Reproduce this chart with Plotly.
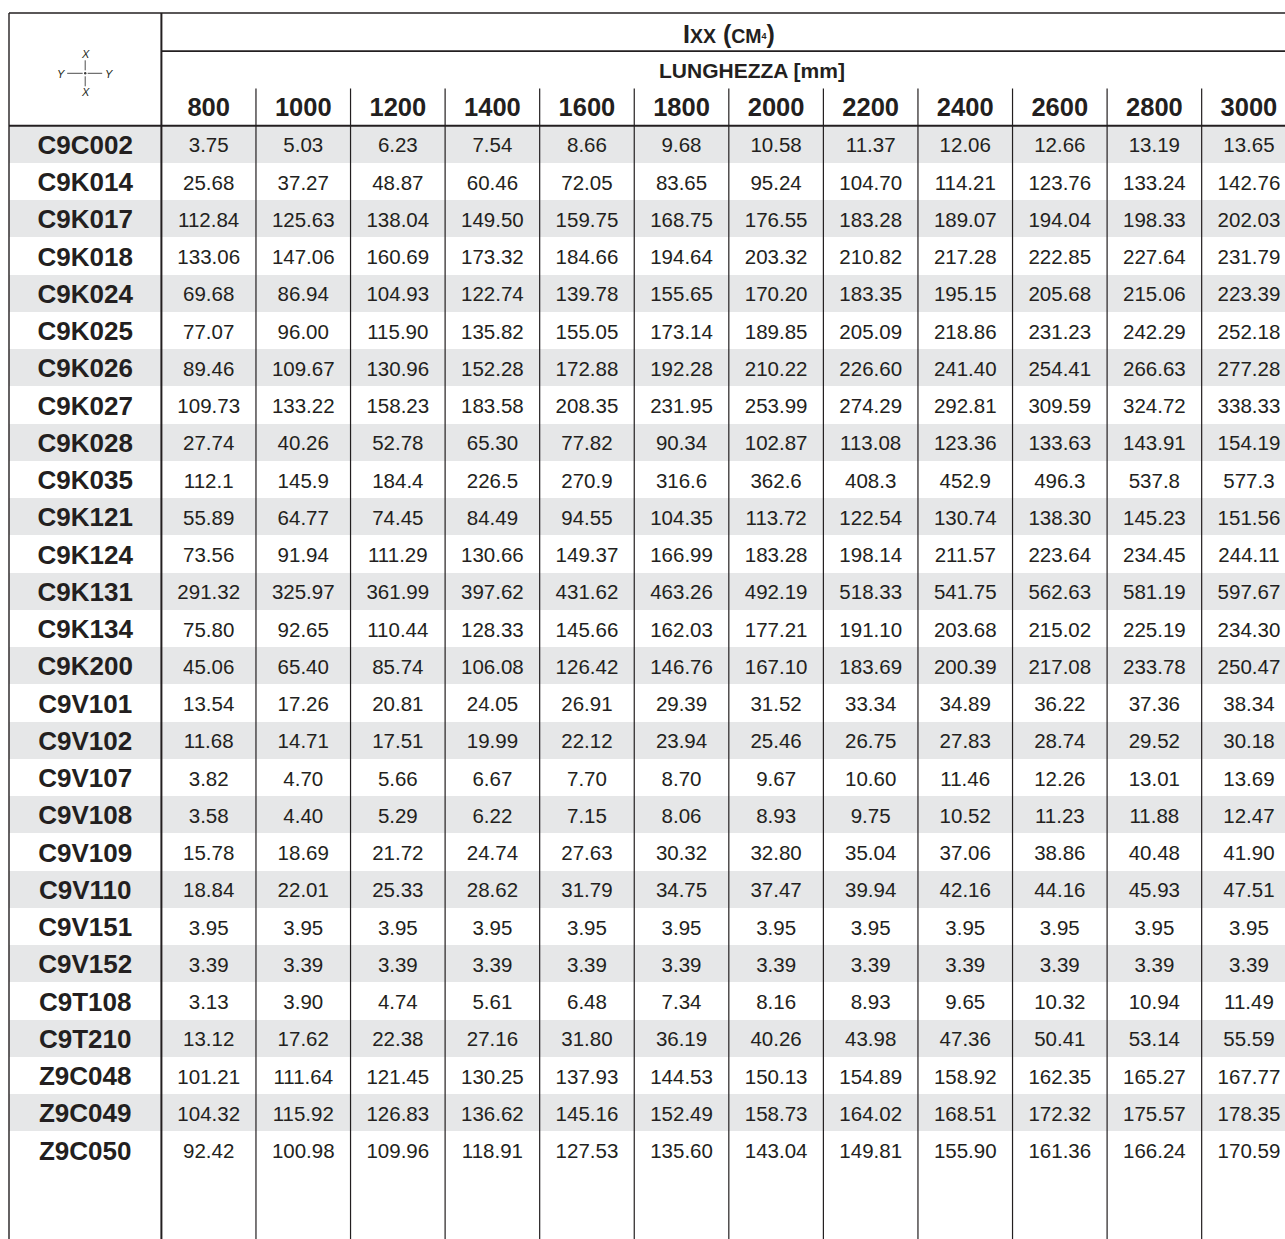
import plotly.graph_objects as go

# ---------------- data ----------------
LENGTHS = [800, 1000, 1200, 1400, 1600, 1800, 2000, 2200, 2400, 2600, 2800, 3000]

PROFILES = ["C9C002", "C9K014", "C9K017", "C9K018", "C9K024", "C9K025", "C9K026",
            "C9K027", "C9K028", "C9K035", "C9K121", "C9K124", "C9K131", "C9K134",
            "C9K200", "C9V101", "C9V102", "C9V107", "C9V108", "C9V109", "C9V110",
            "C9V151", "C9V152", "C9T108", "C9T210", "Z9C048", "Z9C049", "Z9C050"]

C9C002 = [3.75, 5.03, 6.23, 7.54, 8.66, 9.68, 10.58, 11.37, 12.06, 12.66, 13.19, 13.65]
C9K014 = [25.68, 37.27, 48.87, 60.46, 72.05, 83.65, 95.24, 104.70, 114.21, 123.76, 133.24, 142.76]
C9K017 = [112.84, 125.63, 138.04, 149.50, 159.75, 168.75, 176.55, 183.28, 189.07, 194.04, 198.33, 202.03]
C9K018 = [133.06, 147.06, 160.69, 173.32, 184.66, 194.64, 203.32, 210.82, 217.28, 222.85, 227.64, 231.79]
C9K024 = [69.68, 86.94, 104.93, 122.74, 139.78, 155.65, 170.20, 183.35, 195.15, 205.68, 215.06, 223.39]
C9K025 = [77.07, 96.00, 115.90, 135.82, 155.05, 173.14, 189.85, 205.09, 218.86, 231.23, 242.29, 252.18]
C9K026 = [89.46, 109.67, 130.96, 152.28, 172.88, 192.28, 210.22, 226.60, 241.40, 254.41, 266.63, 277.28]
C9K027 = [109.73, 133.22, 158.23, 183.58, 208.35, 231.95, 253.99, 274.29, 292.81, 309.59, 324.72, 338.33]
C9K028 = [27.74, 40.26, 52.78, 65.30, 77.82, 90.34, 102.87, 113.08, 123.36, 133.63, 143.91, 154.19]
C9K035 = [112.1, 145.9, 184.4, 226.5, 270.9, 316.6, 362.6, 408.3, 452.9, 496.3, 537.8, 577.3]
C9K121 = [55.89, 64.77, 74.45, 84.49, 94.55, 104.35, 113.72, 122.54, 130.74, 138.30, 145.23, 151.56]
C9K124 = [73.56, 91.94, 111.29, 130.66, 149.37, 166.99, 183.28, 198.14, 211.57, 223.64, 234.45, 244.11]
C9K131 = [291.32, 325.97, 361.99, 397.62, 431.62, 463.26, 492.19, 518.33, 541.75, 562.63, 581.19, 597.67]
C9K134 = [75.80, 92.65, 110.44, 128.33, 145.66, 162.03, 177.21, 191.10, 203.68, 215.02, 225.19, 234.30]
C9K200 = [45.06, 65.40, 85.74, 106.08, 126.42, 146.76, 167.10, 183.69, 200.39, 217.08, 233.78, 250.47]
C9V101 = [13.54, 17.26, 20.81, 24.05, 26.91, 29.39, 31.52, 33.34, 34.89, 36.22, 37.36, 38.34]
C9V102 = [11.68, 14.71, 17.51, 19.99, 22.12, 23.94, 25.46, 26.75, 27.83, 28.74, 29.52, 30.18]
C9V107 = [3.82, 4.70, 5.66, 6.67, 7.70, 8.70, 9.67, 10.60, 11.46, 12.26, 13.01, 13.69]
C9V108 = [3.58, 4.40, 5.29, 6.22, 7.15, 8.06, 8.93, 9.75, 10.52, 11.23, 11.88, 12.47]
C9V109 = [15.78, 18.69, 21.72, 24.74, 27.63, 30.32, 32.80, 35.04, 37.06, 38.86, 40.48, 41.90]
C9V110 = [18.84, 22.01, 25.33, 28.62, 31.79, 34.75, 37.47, 39.94, 42.16, 44.16, 45.93, 47.51]
C9V151 = [3.95, 3.95, 3.95, 3.95, 3.95, 3.95, 3.95, 3.95, 3.95, 3.95, 3.95, 3.95]
C9V152 = [3.39, 3.39, 3.39, 3.39, 3.39, 3.39, 3.39, 3.39, 3.39, 3.39, 3.39, 3.39]
C9T108 = [3.13, 3.90, 4.74, 5.61, 6.48, 7.34, 8.16, 8.93, 9.65, 10.32, 10.94, 11.49]
C9T210 = [13.12, 17.62, 22.38, 27.16, 31.80, 36.19, 40.26, 43.98, 47.36, 50.41, 53.14, 55.59]
Z9C048 = [101.21, 111.64, 121.45, 130.25, 137.93, 144.53, 150.13, 154.89, 158.92, 162.35, 165.27, 167.77]
Z9C049 = [104.32, 115.92, 126.83, 136.62, 145.16, 152.49, 158.73, 164.02, 168.51, 172.32, 175.57, 178.35]
Z9C050 = [92.42, 100.98, 109.96, 118.91, 127.53, 135.60, 143.04, 149.81, 155.90, 161.36, 166.24, 170.59]

VALUES = [C9C002, C9K014, C9K017, C9K018, C9K024, C9K025, C9K026, C9K027, C9K028,
          C9K035, C9K121, C9K124, C9K131, C9K134, C9K200, C9V101, C9V102, C9V107,
          C9V108, C9V109, C9V110, C9V151, C9V152, C9T108, C9T210, Z9C048, Z9C049, Z9C050]

ONE_DECIMAL = ["C9K035"]

SUBTITLE = "LUNGHEZZA [mm]"

# ---------------- layout geometry (pixels) ----------------
W, H = 1285, 1239
PLOT_L, PLOT_T = 7, 11
COL_W = 94.57
ROW_H = 37.25
DATA_L = 161.4      # left edge of first data column
HEAD_B = 125.7      # bottom of header block
TABLE_L = 9.0
TABLE_T = 13.0
TEXT_DROP = 3.0     # px: move text slightly down to visually centre digits

INK = "#231f20"
SHADE = "#e6e7e8"
FONT = "Liberation Sans, Arial, Helvetica, sans-serif"


def px_x(px):
    return -0.5 + (px - DATA_L) / COL_W


def px_y(py):
    return -0.5 + (py - HEAD_B) / ROW_H


x_min, x_max = px_x(PLOT_L), px_x(W)
y_top, y_bot = px_y(PLOT_T), px_y(H)
x_border = px_x(TABLE_L)
y_border = px_y(TABLE_T)
x_label = px_x((TABLE_L + DATA_L) / 2)
s = TEXT_DROP / ROW_H

n_rows = len(PROFILES)
n_cols = len(LENGTHS)

fig = go.Figure()

# shaded alternate rows
shaded = [r for r in range(n_rows) if r % 2 == 0]
fig.add_trace(go.Bar(
    orientation="h", y=shaded, x=[x_max - x_border + 1] * len(shaded),
    base=x_border, width=1, marker=dict(color=SHADE, line=dict(width=0)),
    hoverinfo="skip", showlegend=False))

# values
xs, ys, ts = [], [], []
for r, (name, row) in enumerate(zip(PROFILES, VALUES)):
    fmt = "{:.1f}" if name in ONE_DECIMAL else "{:.2f}"
    for c, v in enumerate(row):
        xs.append(c)
        ys.append(r)
        ts.append(fmt.format(v))
fig.add_trace(go.Scatter(
    x=xs, y=ys, text=ts, mode="text", textposition="middle center", yaxis="y2",
    textfont=dict(family=FONT, size=20.5, color=INK),
    hoverinfo="skip", showlegend=False))

# row labels
fig.add_trace(go.Scatter(
    x=[x_label] * n_rows, y=list(range(n_rows)), yaxis="y2",
    text=["<b>%s</b>" % p for p in PROFILES], mode="text",
    textposition="middle center",
    textfont=dict(family=FONT, size=26, color=INK),
    hoverinfo="skip", showlegend=False))

# column headers
fig.add_trace(go.Scatter(
    x=list(range(n_cols)), y=[-1] * n_cols, yaxis="y2",
    text=["<b>%d</b>" % L for L in LENGTHS], mode="text",
    textposition="middle center",
    textfont=dict(family=FONT, size=25.5, color=INK),
    hoverinfo="skip", showlegend=False))

# ---------------- lines ----------------
shapes = []


def seg(x0, y0, x1, y1, w, col=INK):
    shapes.append(dict(type="line", xref="x", yref="y", x0=x0, x1=x1, y0=y0, y1=y1,
                       line=dict(color=col, width=w)))


seg(x_border, y_border, x_max + 1, y_border, 1.4)      # top border
seg(x_border, y_border, x_border, y_bot + 1, 1.4)      # left border
seg(-0.5, y_border, -0.5, y_bot + 1, 2)                # label column divider
seg(-0.5, -2.5, x_max + 1, -2.5, 1.7)                  # under title
seg(x_border, -0.5, x_max + 1, -0.5, 2)                # under header
for c in range(n_cols):
    seg(c + 0.5, -1.5, c + 0.5, y_bot + 1, 1.2)        # column dividers

# axis icon
cx, cy = x_label, px_y(73.3)
dx = 1 / COL_W
dy = 1 / ROW_H
icon_col = "#3a3a3a"
seg(cx - 18 * dx, cy, cx - 2.5 * dx, cy, 0.9, icon_col)
seg(cx + 2.5 * dx, cy, cx + 17 * dx, cy, 0.9, icon_col)
seg(cx, cy - 13 * dy, cx, cy - 3 * dy, 0.9, icon_col)
seg(cx, cy + 3 * dy, cx, cy + 13 * dy, 0.9, icon_col)
shapes.append(dict(type="circle", xref="x", yref="y", x0=cx - 1.2 * dx, x1=cx + 1.2 * dx,
                   y0=cy - 1.2 * dy, y1=cy + 1.2 * dy, fillcolor=icon_col,
                   line=dict(width=0)))

annotations = []
for (ax_, ay_, t) in [(cx, px_y(52.7), "X"), (cx, px_y(90.5), "X"),
                      (cx - 24 * dx, cy, "Y"), (cx + 24 * dx, cy, "Y")]:
    annotations.append(dict(x=ax_, y=ay_, xref="x", yref="y", text="<i>%s</i>" % t,
                            showarrow=False, xanchor="center", yanchor="middle",
                            yshift=-1,
                            font=dict(family=FONT, size=11, color=INK)))

# title rows
title_html = ("<b>I<span style='font-size:19.5px'>XX</span> (<span style='font-size:19.5px'>CM</span>"
              "<span style='font-size:9px;baseline-shift:4px'>4</span>)</b>")
annotations.append(dict(x=(n_cols - 1) / 2, y=-3, xref="x", yref="y", text=title_html,
                        showarrow=False, xanchor="center", yanchor="middle", yshift=-1,
                        font=dict(family=FONT, size=25, color=INK)))
annotations.append(dict(x=px_x(751.5), y=-2, xref="x", yref="y",
                        text="<b>%s</b>" % SUBTITLE,
                        showarrow=False, xanchor="center", yanchor="middle", yshift=-1,
                        font=dict(family=FONT, size=21, color=INK)))

fig.update_layout(
    width=W, height=H,
    margin=dict(l=PLOT_L, r=0, t=PLOT_T, b=0, pad=0),
    paper_bgcolor="white", plot_bgcolor="white",
    xaxis=dict(range=[x_min, x_max], visible=False, fixedrange=True),
    yaxis=dict(range=[y_bot, y_top], visible=False, fixedrange=True),
    yaxis2=dict(range=[y_bot - s, y_top - s], visible=False, fixedrange=True,
                overlaying="y"),
    shapes=shapes, annotations=annotations,
    showlegend=False, barmode="overlay", bargap=0,
)

fig.write_html("out.html", config={"displayModeBar": False},
               post_script="document.body.style.margin='0';document.body.style.overflow='hidden';")
